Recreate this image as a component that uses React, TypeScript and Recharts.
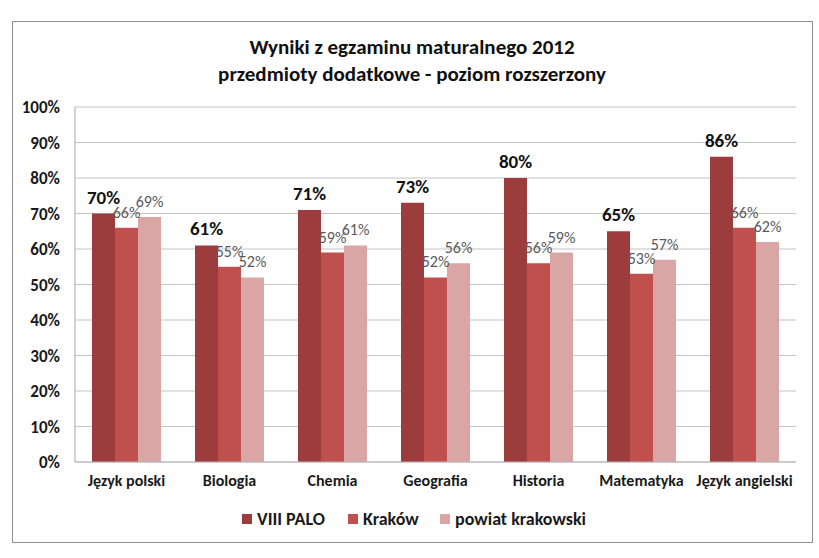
import React from 'react';
import { Bar, BarChart, CartesianGrid, LabelList, XAxis, YAxis } from 'recharts';

// przedmioty i wyniki (%)
const subjects = ['Język polski', 'Biologia', 'Chemia', 'Geografia', 'Historia', 'Matematyka', 'Język angielski'];
const palo = [70, 61, 71, 73, 80, 65, 86];
const krakow = [66, 55, 59, 52, 56, 53, 66];
const powiat = [69, 52, 61, 56, 59, 57, 62];
const yTicks = [0, 10, 20, 30, 40, 50, 60, 70, 80, 90, 100];

const seriesNames = ['VIII PALO', 'Kraków', 'powiat krakowski'];
const colors = ['#9c3c3c', '#c0504d', '#d9a5a5'];
const legendX = [242, 348, 440];

const FONT = "Carlito, 'Liberation Sans', Arial, sans-serif";

const data = subjects.map((name, i) => ({ name, palo: palo[i], krakow: krakow[i], powiat: powiat[i] }));

const pct = (v: any) => `${v}%`;

const App = () => {
  return (
    <div style={{ position: 'absolute', left: 0, top: 0, width: 819, height: 558, background: '#fff', fontFamily: FONT }}>
      <div
        style={{
          position: 'absolute',
          left: 12,
          top: 21,
          width: 799,
          height: 520,
          border: '1.5px solid #8f8f8f',
        }}
      />
      <div
        style={{
          position: 'absolute',
          left: 0,
          top: 34,
          width: 824,
          textAlign: 'center',
          fontSize: 21,
          fontWeight: 'bold',
          lineHeight: '27px',
          color: '#111',
        }}
      >
        Wyniki z egzaminu maturalnego 2012
        <br />
        przedmioty dodatkowe - poziom rozszerzony
      </div>
      <div style={{ position: 'absolute', left: 0, top: 0 }}>
        <BarChart
          width={819}
          height={558}
          data={data}
          margin={{ top: 107, right: 23, bottom: 66, left: 15 }}
          barCategoryGap="16.5%"
          barGap={0}
        >
          <CartesianGrid vertical={false} stroke="#c4c4c4" strokeWidth={1.2} />
          <XAxis
            dataKey="name"
            height={30}
            tickLine={false}
            axisLine={{ stroke: '#b5b5b5', strokeWidth: 1.2 }}
            tickMargin={7}
            interval={0}
            tick={{ fill: '#1a1a1a', fontSize: 16, fontWeight: 'bold', fontFamily: FONT }}
          />
          <YAxis
            width={60}
            domain={[0, 100]}
            ticks={yTicks}
            tickFormatter={pct}
            tickLine={false}
            axisLine={{ stroke: '#b5b5b5', strokeWidth: 1.2 }}
            tickMargin={9}
            tick={{ fill: '#1a1a1a', fontSize: 17, fontWeight: 'bold', fontFamily: FONT }}
          />
          <Bar dataKey="palo" fill={colors[0]} isAnimationActive={false}>
            <LabelList dataKey="palo" position="top" offset={10} formatter={pct} fill="#111" fontSize={19} fontWeight="bold" fontFamily={FONT} />
          </Bar>
          <Bar dataKey="krakow" fill={colors[1]} isAnimationActive={false}>
            <LabelList dataKey="krakow" position="top" offset={10} formatter={pct} fill="#595959" fontSize={16} fontFamily={FONT} />
          </Bar>
          <Bar dataKey="powiat" fill={colors[2]} isAnimationActive={false}>
            <LabelList dataKey="powiat" position="top" offset={10} formatter={pct} fill="#595959" fontSize={16} fontFamily={FONT} />
          </Bar>
        </BarChart>
      </div>
      {seriesNames.map((n, i) => (
        <div
          key={n}
          style={{
            position: 'absolute',
            left: legendX[i],
            top: 508,
            display: 'flex',
            alignItems: 'center',
            fontSize: 18,
            fontWeight: 'bold',
            color: '#1a1a1a',
            lineHeight: '22px',
            whiteSpace: 'nowrap',
          }}
        >
          <span style={{ width: 10, height: 10, background: colors[i], marginRight: 5, display: 'inline-block' }} />
          <span>{n}</span>
        </div>
      ))}
    </div>
  );
};

export default App;
